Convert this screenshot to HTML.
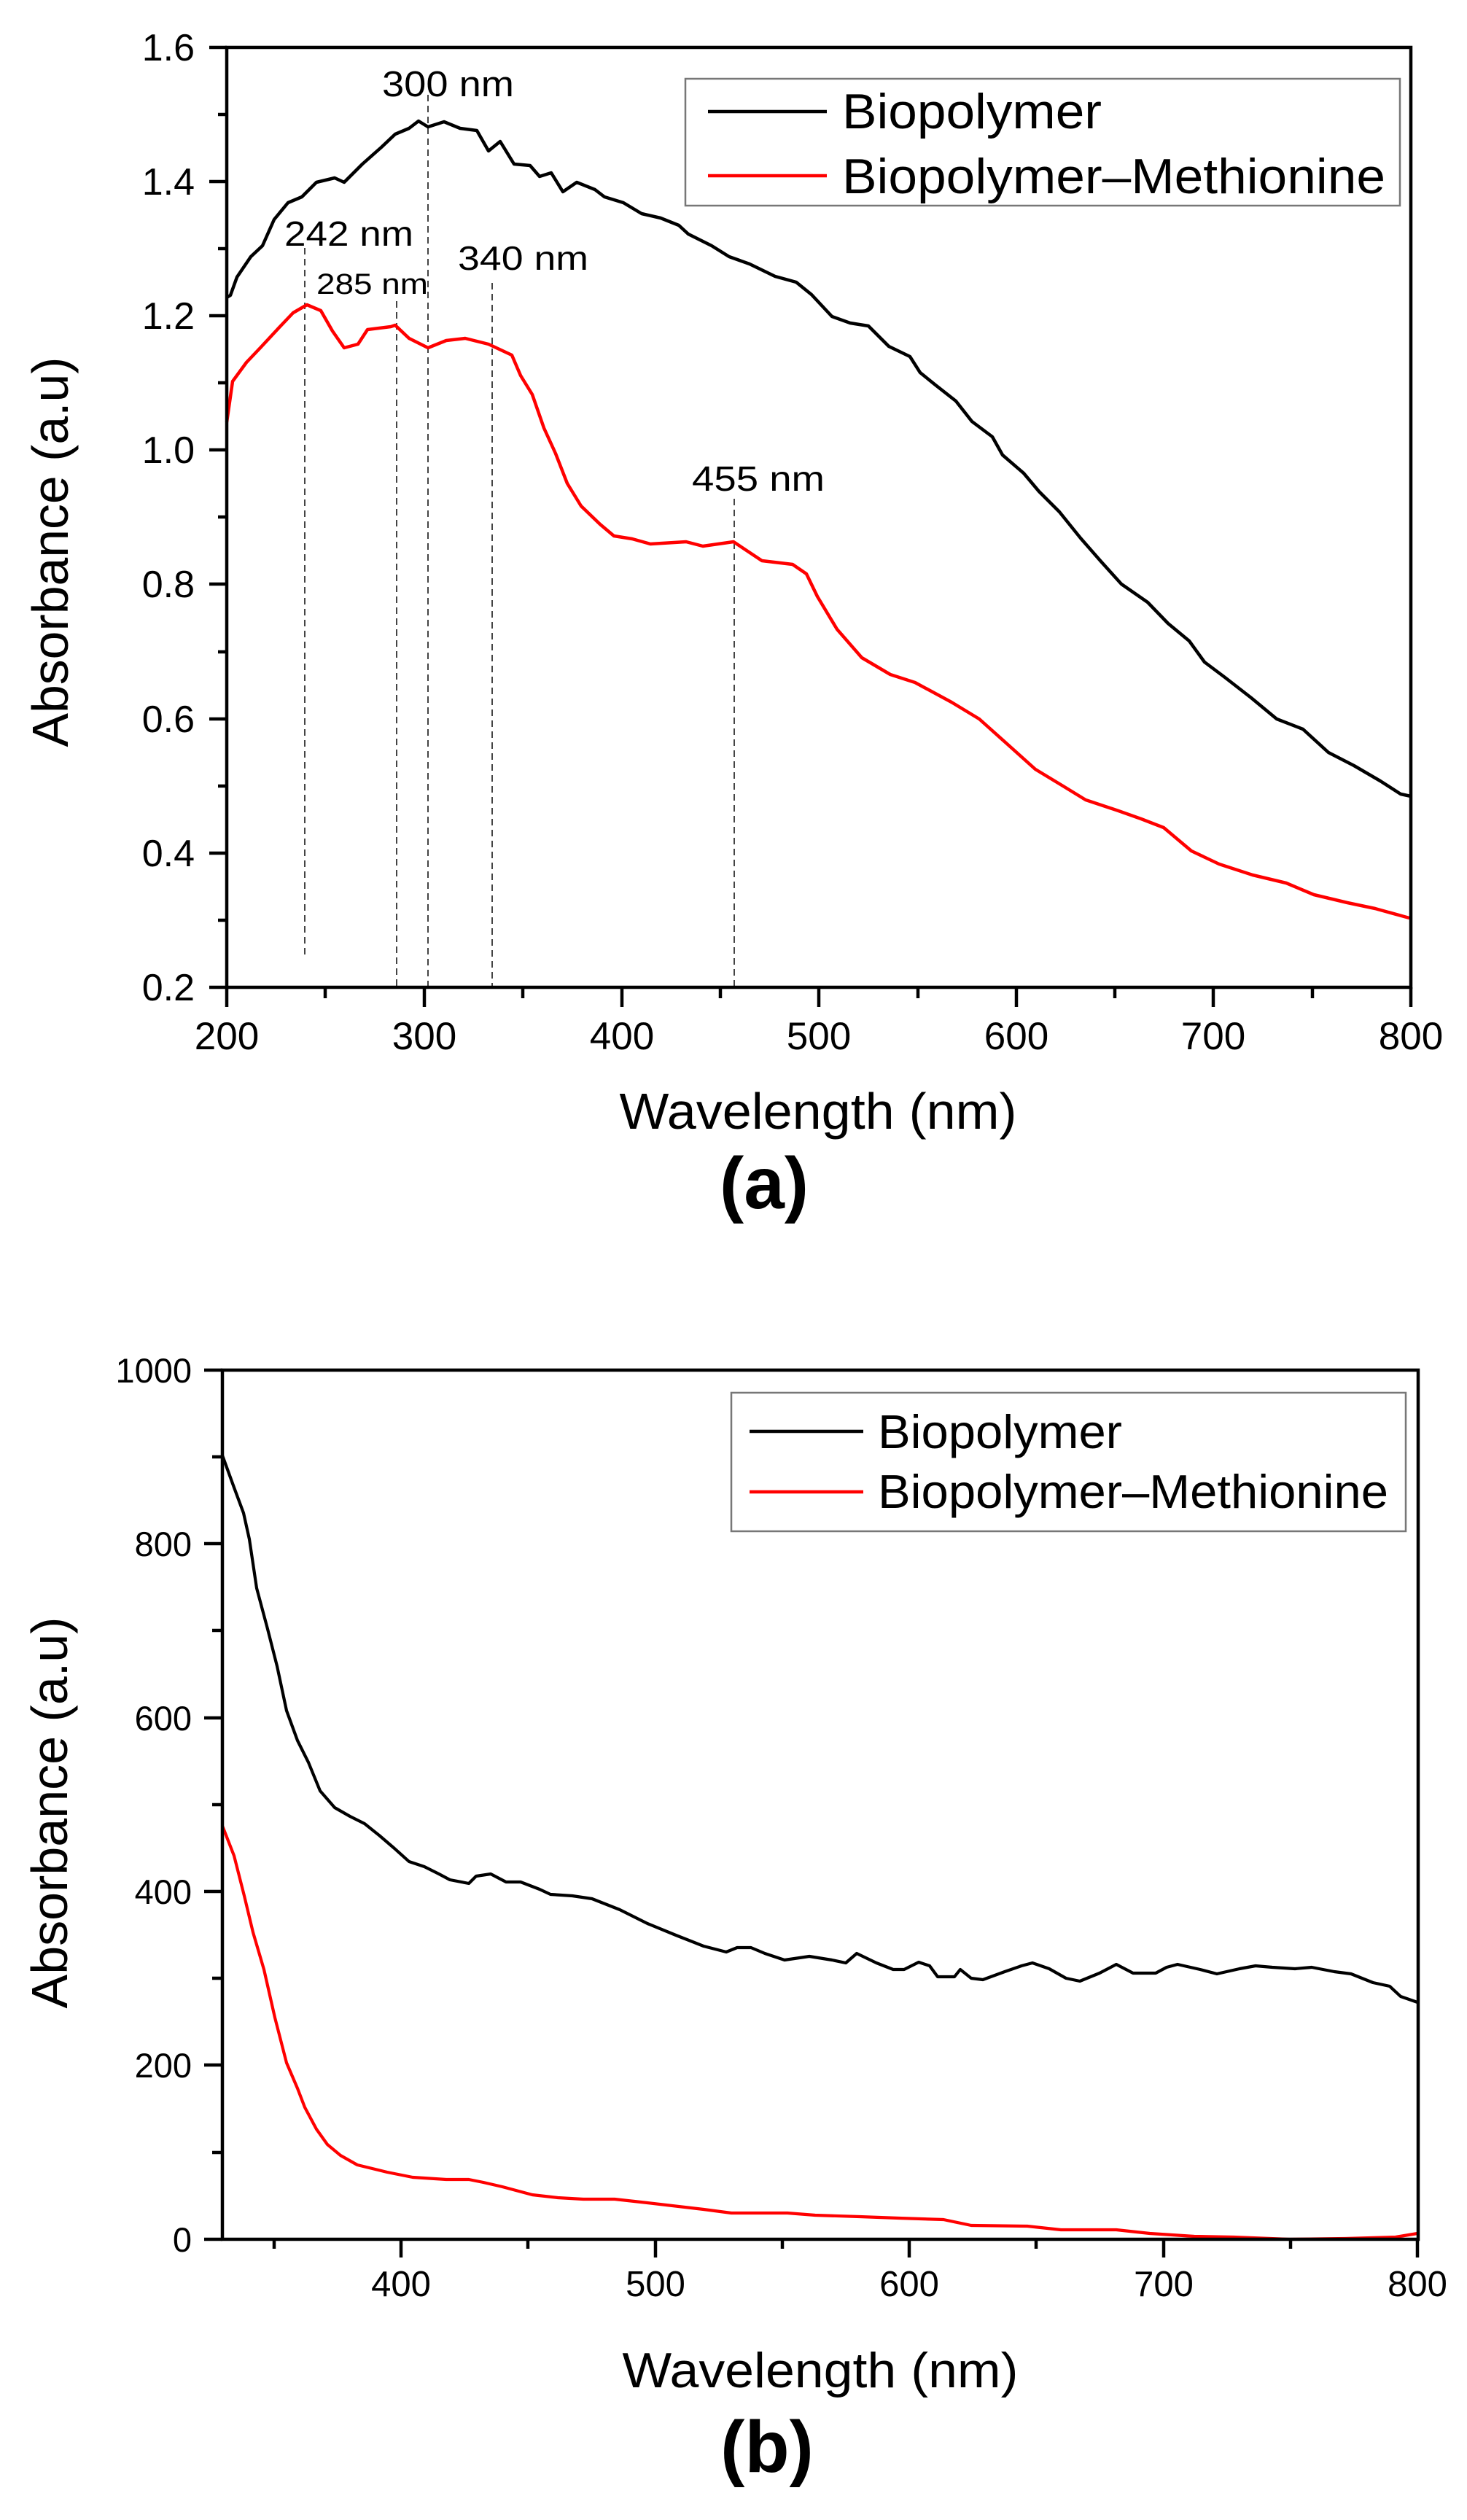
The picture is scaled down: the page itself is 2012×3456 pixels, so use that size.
<!DOCTYPE html>
<html>
<head>
<meta charset="utf-8">
<style>
html,body{margin:0;padding:0;background:#fff;}
svg{display:block;}
text{font-family:"Liberation Sans",Arial,sans-serif;fill:#000;}
</style>
</head>
<body>
<svg width="2012" height="3456" viewBox="0 0 2012 3456" xmlns="http://www.w3.org/2000/svg">
<rect x="0" y="0" width="2012" height="3456" fill="#fff"/>

<!-- ================= CHART (a) ================= -->
<!-- dashed guide lines -->
<g stroke="#444" stroke-width="2" stroke-dasharray="9 6" fill="none">
  <line x1="418" y1="340" x2="418" y2="1312"/>
  <line x1="544" y1="413" x2="544" y2="1354"/>
  <line x1="587" y1="130" x2="587" y2="1354"/>
  <line x1="675" y1="388" x2="675" y2="1354"/>
  <line x1="1007" y1="684" x2="1007" y2="1354"/>
</g>

<!-- curves -->
<polyline fill="none" stroke="#000" stroke-width="4.5" stroke-linejoin="round" points="311,408 316,405 325,380 344,352 360,337 376,301 395,278 414,270 434,250 459,244 472,250 497,225 523,202 542,184 561,176 574,166 587,174 609,167 631,176 654,179 670,207 686,194 705,225 727,227 740,242 756,237 772,263 791,250 816,260 829,270 855,278 880,293 906,299 931,309 944,321 976,337 1000,352 1028,362 1063,379 1092,387 1113,404 1141,434 1166,443 1191,447 1219,475 1248,489 1262,511 1283,528 1311,550 1333,578 1361,599 1375,624 1404,649 1425,674 1453,702 1482,738 1510,770 1538,801 1574,826 1602,855 1631,879 1652,908 1680,929 1716,957 1751,986 1787,1000 1822,1032 1857,1050 1893,1071 1921,1089 1935,1092"/>
<polyline fill="none" stroke="#ff0000" stroke-width="4.5" stroke-linejoin="round" points="311,579 319,523 338,497 357,477 383,449 402,429 421,418 440,426 456,454 472,477 491,472 504,452 536,448 542,446 561,464 587,477 612,467 638,464 670,472 702,487 714,515 730,541 746,587 762,622 778,663 797,694 823,719 842,735 867,739 892,746 941,743 964,749 1006,743 1045,769 1087,774 1106,787 1121,818 1148,863 1182,902 1221,925 1255,936 1305,963 1343,986 1381,1020 1420,1055 1458,1078 1489,1097 1534,1112 1565,1123 1596,1135 1634,1167 1672,1185 1718,1200 1764,1211 1802,1227 1848,1238 1886,1246 1933,1259"/>

<!-- frame -->
<rect x="311" y="65" width="1624" height="1289" fill="none" stroke="#000" stroke-width="4.5"/>

<!-- y ticks a -->
<g stroke="#000" stroke-width="4.5">
  <line x1="287" y1="65" x2="311" y2="65"/>
  <line x1="299" y1="157" x2="311" y2="157"/>
  <line x1="287" y1="249" x2="311" y2="249"/>
  <line x1="299" y1="341" x2="311" y2="341"/>
  <line x1="287" y1="433" x2="311" y2="433"/>
  <line x1="299" y1="525" x2="311" y2="525"/>
  <line x1="287" y1="617" x2="311" y2="617"/>
  <line x1="299" y1="709" x2="311" y2="709"/>
  <line x1="287" y1="801" x2="311" y2="801"/>
  <line x1="299" y1="894" x2="311" y2="894"/>
  <line x1="287" y1="986" x2="311" y2="986"/>
  <line x1="299" y1="1078" x2="311" y2="1078"/>
  <line x1="287" y1="1170" x2="311" y2="1170"/>
  <line x1="299" y1="1262" x2="311" y2="1262"/>
  <line x1="287" y1="1354" x2="311" y2="1354"/>
</g>
<!-- x ticks a -->
<g stroke="#000" stroke-width="4.5">
  <line x1="311" y1="1354" x2="311" y2="1381"/>
  <line x1="446" y1="1354" x2="446" y2="1369"/>
  <line x1="582" y1="1354" x2="582" y2="1381"/>
  <line x1="717" y1="1354" x2="717" y2="1369"/>
  <line x1="853" y1="1354" x2="853" y2="1381"/>
  <line x1="988" y1="1354" x2="988" y2="1369"/>
  <line x1="1123" y1="1354" x2="1123" y2="1381"/>
  <line x1="1259" y1="1354" x2="1259" y2="1369"/>
  <line x1="1394" y1="1354" x2="1394" y2="1381"/>
  <line x1="1529" y1="1354" x2="1529" y2="1369"/>
  <line x1="1664" y1="1354" x2="1664" y2="1381"/>
  <line x1="1800" y1="1354" x2="1800" y2="1369"/>
  <line x1="1935" y1="1354" x2="1935" y2="1381"/>
</g>

<!-- y tick labels a -->
<g font-size="52" text-anchor="end">
  <text x="267" y="83">1.6</text>
  <text x="267" y="267">1.4</text>
  <text x="267" y="451">1.2</text>
  <text x="267" y="635">1.0</text>
  <text x="267" y="819">0.8</text>
  <text x="267" y="1004">0.6</text>
  <text x="267" y="1188">0.4</text>
  <text x="267" y="1372">0.2</text>
</g>
<!-- x tick labels a -->
<g font-size="53" text-anchor="middle">
  <text x="311" y="1439">200</text>
  <text x="582" y="1439">300</text>
  <text x="853" y="1439">400</text>
  <text x="1123" y="1439">500</text>
  <text x="1394" y="1439">600</text>
  <text x="1664" y="1439">700</text>
  <text x="1935" y="1439">800</text>
</g>

<!-- peak labels -->
<text x="524" y="132" font-size="49" textLength="181" lengthAdjust="spacingAndGlyphs">300 nm</text>
<text x="390" y="337" font-size="48" textLength="177" lengthAdjust="spacingAndGlyphs">242 nm</text>
<text x="434" y="403" font-size="40" textLength="153" lengthAdjust="spacingAndGlyphs">285 nm</text>
<text x="628" y="370" font-size="46" textLength="179" lengthAdjust="spacingAndGlyphs">340 nm</text>
<text x="949" y="673" font-size="48" textLength="182" lengthAdjust="spacingAndGlyphs">455 nm</text>

<!-- legend a -->
<rect x="940" y="108" width="980" height="174" fill="#fff" stroke="#777" stroke-width="2.5"/>
<line x1="971" y1="153" x2="1134" y2="153" stroke="#000" stroke-width="4.5"/>
<line x1="971" y1="241" x2="1134" y2="241" stroke="#ff0000" stroke-width="4.5"/>
<text x="1155" y="176" font-size="68" textLength="356" lengthAdjust="spacingAndGlyphs">Biopolymer</text>
<text x="1155" y="265" font-size="68" textLength="745" lengthAdjust="spacingAndGlyphs">Biopolymer–Methionine</text>

<!-- axis titles a -->
<text x="1122" y="1548" font-size="70" text-anchor="middle" textLength="545" lengthAdjust="spacingAndGlyphs">Wavelength (nm)</text>
<text transform="translate(93,757) rotate(-90)" font-size="70" text-anchor="middle" textLength="535" lengthAdjust="spacingAndGlyphs">Absorbance (a.u)</text>
<text x="1048" y="1657" font-size="100" font-weight="bold" text-anchor="middle">(a)</text>

<!-- ================= CHART (b) ================= -->
<polyline fill="none" stroke="#000" stroke-width="4.2" stroke-linejoin="round" points="305,1996 321,2040 334,2075 342,2111 352,2178 367,2234 380,2285 393,2346 408,2387 423,2417 439,2456 459,2479 480,2491 500,2501 520,2517 541,2535 561,2553 582,2560 602,2570 617,2578 643,2583 653,2573 673,2570 694,2581 714,2581 740,2591 755,2598 785,2600 812,2604 850,2619 888,2638 927,2654 965,2669 996,2677 1011,2671 1030,2671 1049,2679 1076,2688 1110,2683 1141,2688 1160,2692 1175,2679 1202,2692 1225,2701 1240,2701 1260,2691 1275,2696 1286,2711 1309,2711 1317,2701 1332,2713 1348,2715 1378,2704 1401,2696 1416,2692 1439,2700 1462,2713 1481,2717 1508,2706 1531,2694 1554,2706 1585,2706 1600,2698 1615,2694 1646,2701 1669,2707 1700,2700 1722,2696 1745,2698 1776,2700 1799,2698 1830,2704 1853,2707 1883,2719 1906,2724 1921,2738 1944,2746"/>
<polyline fill="none" stroke="#ff0000" stroke-width="4.2" stroke-linejoin="round" points="305,2504 321,2545 335,2600 347,2650 362,2701 377,2767 393,2829 408,2864 418,2890 434,2920 449,2941 467,2956 490,2969 531,2979 566,2986 612,2989 643,2989 663,2993 689,2999 730,3010 765,3014 800,3016 843,3016 888,3021 965,3030 1003,3035 1080,3035 1118,3038 1179,3040 1233,3042 1294,3044 1332,3052 1409,3053 1455,3058 1531,3058 1577,3063 1638,3067 1692,3068 1768,3071 1845,3070 1914,3068 1944,3063"/>

<rect x="305" y="1879" width="1640" height="1192" fill="none" stroke="#000" stroke-width="4.5"/>

<!-- y ticks b -->
<g stroke="#000" stroke-width="4.5">
  <line x1="280" y1="1879" x2="305" y2="1879"/>
  <line x1="291" y1="1998" x2="305" y2="1998"/>
  <line x1="280" y1="2117" x2="305" y2="2117"/>
  <line x1="291" y1="2236" x2="305" y2="2236"/>
  <line x1="280" y1="2356" x2="305" y2="2356"/>
  <line x1="291" y1="2475" x2="305" y2="2475"/>
  <line x1="280" y1="2594" x2="305" y2="2594"/>
  <line x1="291" y1="2713" x2="305" y2="2713"/>
  <line x1="280" y1="2832" x2="305" y2="2832"/>
  <line x1="291" y1="2952" x2="305" y2="2952"/>
  <line x1="280" y1="3071" x2="305" y2="3071"/>
</g>
<!-- x ticks b -->
<g stroke="#000" stroke-width="4.5">
  <line x1="376" y1="3071" x2="376" y2="3084"/>
  <line x1="550" y1="3071" x2="550" y2="3096"/>
  <line x1="724" y1="3071" x2="724" y2="3084"/>
  <line x1="899" y1="3071" x2="899" y2="3096"/>
  <line x1="1073" y1="3071" x2="1073" y2="3084"/>
  <line x1="1247" y1="3071" x2="1247" y2="3096"/>
  <line x1="1421" y1="3071" x2="1421" y2="3084"/>
  <line x1="1596" y1="3071" x2="1596" y2="3096"/>
  <line x1="1770" y1="3071" x2="1770" y2="3084"/>
  <line x1="1944" y1="3071" x2="1944" y2="3096"/>
</g>

<g font-size="47" text-anchor="end">
  <text x="263" y="1896">1000</text>
  <text x="263" y="2134">800</text>
  <text x="263" y="2373">600</text>
  <text x="263" y="2611">400</text>
  <text x="263" y="2849">200</text>
  <text x="263" y="3088">0</text>
</g>
<g font-size="49" text-anchor="middle">
  <text x="550" y="3149">400</text>
  <text x="899" y="3149">500</text>
  <text x="1247" y="3149">600</text>
  <text x="1596" y="3149">700</text>
  <text x="1944" y="3149">800</text>
</g>

<!-- legend b -->
<rect x="1003" y="1910" width="925" height="190" fill="#fff" stroke="#777" stroke-width="2.5"/>
<line x1="1028" y1="1963" x2="1184" y2="1963" stroke="#000" stroke-width="4.5"/>
<line x1="1028" y1="2046" x2="1184" y2="2046" stroke="#ff0000" stroke-width="4.5"/>
<text x="1204" y="1986" font-size="65" textLength="335" lengthAdjust="spacingAndGlyphs">Biopolymer</text>
<text x="1204" y="2068" font-size="65" textLength="700" lengthAdjust="spacingAndGlyphs">Biopolymer–Methionine</text>

<text x="1125" y="3274" font-size="68" text-anchor="middle" textLength="543" lengthAdjust="spacingAndGlyphs">Wavelength (nm)</text>
<text transform="translate(92,2486) rotate(-90)" font-size="70" text-anchor="middle" textLength="537" lengthAdjust="spacingAndGlyphs">Absorbance (a.u)</text>
<text x="1052" y="3390" font-size="100" font-weight="bold" text-anchor="middle">(b)</text>
</svg>
</body>
</html>
